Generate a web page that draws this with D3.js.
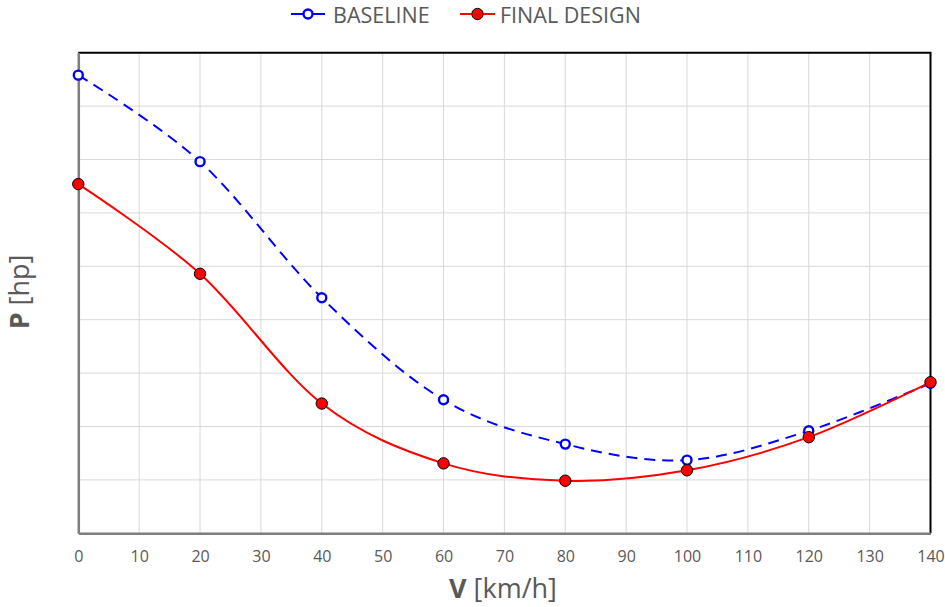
<!DOCTYPE html>
<html><head><meta charset="utf-8">
<script src="https://cdn.jsdelivr.net/npm/d3@7"></script>
<style>body{margin:0;background:#fff}svg{display:block}</style>
</head><body>
<svg id="c" width="945" height="607"></svg>
<script>
const speeds = [0, 20, 40, 60, 80, 100, 120, 140];
const baseline = [85.8, 69.6, 44.1, 25.0, 16.7, 13.7, 19.2, 28.1];
const finalDesign = [65.4, 48.6, 24.3, 13.1, 9.85, 11.8, 18.0, 28.3];
const xTicks = d3.range(0, 141, 10);
const yTicks = d3.range(0, 91, 10);
const seriesNames = ["BASELINE", "FINAL DESIGN"];

const svg = d3.select("#c");
const L = 78.3, R = 930.5, T = 52.7, B = 533.3;
const x = d3.scaleLinear().domain([0, 140]).range([L, R]);
const y = d3.scaleLinear().domain([0, 90]).range([B, T]);
const font = "'Open Sans', sans-serif";
const grey = "#595959";

svg.append("g").selectAll("line").data(xTicks).join("line")
  .attr("x1", d => x(d)).attr("x2", d => x(d)).attr("y1", T).attr("y2", B)
  .attr("stroke", "#d9d9d9").attr("stroke-width", 1);
svg.append("g").selectAll("line").data(yTicks).join("line")
  .attr("x1", L).attr("x2", R).attr("y1", d => y(d)).attr("y2", d => y(d))
  .attr("stroke", "#d9d9d9").attr("stroke-width", 1);

svg.append("path").attr("d", `M${L},${T}H${R}V${B}`).attr("fill", "none")
  .attr("stroke", "#000").attr("stroke-width", 2);

const xa = svg.append("g").attr("transform", `translate(0,${B})`)
  .call(d3.axisBottom(x).tickValues(xTicks).tickSize(0).tickPadding(17).tickSizeOuter(0));
xa.select(".domain").attr("stroke", "#7f7f7f").attr("stroke-width", 2.5);
xa.selectAll("text").attr("font-family", font).attr("font-size", 16).attr("fill", grey);

const ya = svg.append("g").attr("transform", `translate(${L},0)`)
  .call(d3.axisLeft(y).tickValues(yTicks).tickSize(0).tickFormat("").tickSizeOuter(0));
ya.select(".domain").attr("stroke", "#7f7f7f").attr("stroke-width", 2.5);

const xt = svg.append("text").attr("x", 503).attr("y", 598).attr("text-anchor", "middle")
  .attr("font-family", font).attr("font-size", 27).attr("fill", grey);
xt.append("tspan").attr("font-weight", "bold").text("V");
xt.append("tspan").text(" [km/h]");
const yt = svg.append("text").attr("transform", "translate(29,292) rotate(-90)").attr("text-anchor", "middle")
  .attr("font-family", font).attr("font-size", 27).attr("fill", grey);
yt.append("tspan").attr("font-weight", "bold").text("P");
yt.append("tspan").text(" [hp]");

const curve = d3.curveCardinal.tension(0);
const line = d3.line().x(d => x(d[0])).y(d => y(d[1])).curve(curve);
const bData = speeds.map((s, i) => [s, baseline[i]]);
const fData = speeds.map((s, i) => [s, finalDesign[i]]);

svg.append("path").datum(bData).attr("d", line).attr("fill", "none")
  .attr("stroke", "#0000ff").attr("stroke-width", 2).attr("stroke-dasharray", "11,7");
svg.append("path").datum(fData).attr("d", line).attr("fill", "none")
  .attr("stroke", "#ff0000").attr("stroke-width", 2);

svg.append("g").selectAll("circle").data(bData).join("circle")
  .attr("cx", d => x(d[0])).attr("cy", d => y(d[1])).attr("r", 4.5)
  .attr("fill", "#fff").attr("stroke", "#0000ff").attr("stroke-width", 2.4);
svg.append("g").selectAll("circle").data(fData).join("circle")
  .attr("cx", d => x(d[0])).attr("cy", d => y(d[1])).attr("r", 5.7)
  .attr("fill", "#ff0000").attr("stroke", "#000").attr("stroke-width", 1);

const leg = [
  {name: seriesNames[0], x0: 291, x1: 325, tx: 333, col: "#0000ff", open: true},
  {name: seriesNames[1], x0: 460, x1: 495, tx: 500, col: "#ff0000", open: false}
];
leg.forEach(l => {
  svg.append("line").attr("x1", l.x0).attr("x2", l.x1).attr("y1", 14).attr("y2", 14)
    .attr("stroke", l.col).attr("stroke-width", 2);
  svg.append("circle").attr("cx", (l.x0 + l.x1) / 2).attr("cy", 14)
    .attr("r", l.open ? 4.5 : 5.7)
    .attr("fill", l.open ? "#fff" : l.col)
    .attr("stroke", l.open ? l.col : "#000").attr("stroke-width", l.open ? 2.4 : 1);
  svg.append("text").attr("x", l.tx).attr("y", 23).attr("font-family", font)
    .attr("font-size", 21.5).attr("fill", grey).text(l.name);
});
</script>
</body></html>
